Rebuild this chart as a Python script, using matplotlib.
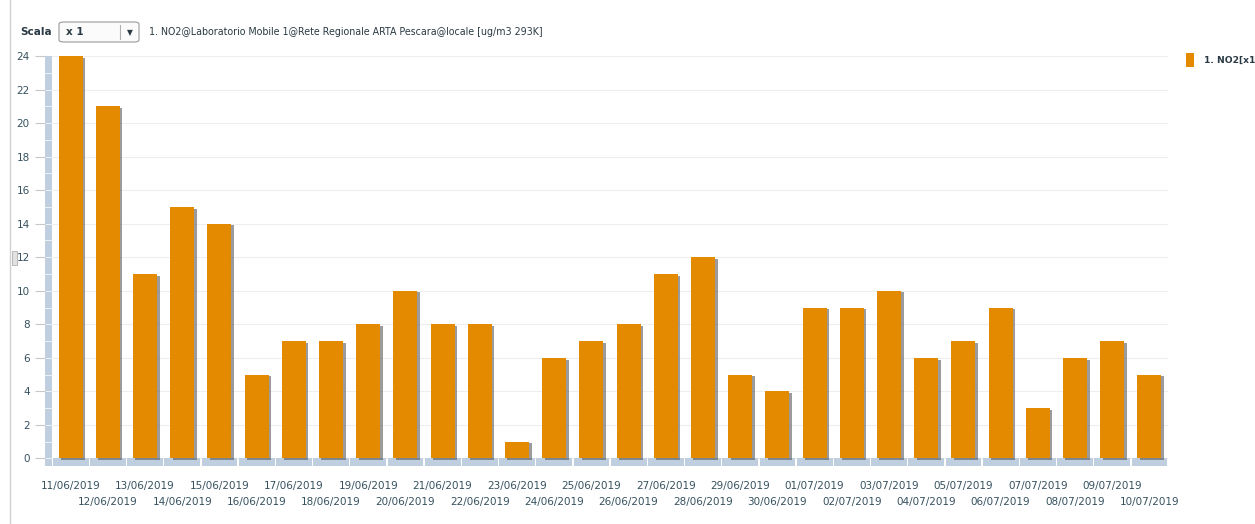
import numpy as np
import matplotlib.pyplot as plt
import matplotlib.patheffects as pe
from matplotlib.patches import FancyBboxPatch, Rectangle

# NO2 daily values, Laboratorio Mobile 1
dates = ["11/06/2019", "12/06/2019", "13/06/2019", "14/06/2019", "15/06/2019",
         "16/06/2019", "17/06/2019", "18/06/2019", "19/06/2019", "20/06/2019",
         "21/06/2019", "22/06/2019", "23/06/2019", "24/06/2019", "25/06/2019",
         "26/06/2019", "27/06/2019", "28/06/2019", "29/06/2019", "30/06/2019",
         "01/07/2019", "02/07/2019", "03/07/2019", "04/07/2019", "05/07/2019",
         "06/07/2019", "07/07/2019", "08/07/2019", "09/07/2019", "10/07/2019"]
no2 = [24, 21, 11, 15, 14, 5, 7, 7, 8, 10, 8, 8, 1, 6, 7, 8, 11, 12, 5, 4,
       9, 9, 10, 6, 7, 9, 3, 6, 7, 5]
yticks = list(range(0, 25, 2))

W, H = 1255, 524
BAR = "#e38a00"
TXT = "#35515e"
WALL = "#bfcfdf"

fig = plt.figure(figsize=(W / 100, H / 100), dpi=100)

def px(x0, y0, x1, y1):
    # pixel box (from top-left) -> figure fraction [l, b, w, h]
    return [x0 / W, 1 - y1 / H, (x1 - x0) / W, (y1 - y0) / H]

# axes spans the 3d wall (x 45..52) and the floor (y 458..466)
ax = fig.add_axes(px(45, 56, 1168, 466))
n = len(no2)
step = (1168 - 52) / n
wall_w = 7 / step
floor_h = 7.5 / ((458 - 56) / 24)
ax.set_xlim(-0.5 - wall_w, n - 0.5)
ax.set_ylim(-floor_h, 24)

for s in ax.spines.values():
    s.set_visible(False)

# gridlines
for t in yticks:
    ax.plot([-0.5, n - 0.5], [t, t], color="#eeeeee", lw=0.8, zorder=0)

# wall with white separators each unit
ax.add_patch(Rectangle((-0.5 - wall_w, -floor_h), wall_w, 24 + floor_h,
                       facecolor=WALL, edgecolor="none", zorder=1))
for u in range(0, 24):
    ax.plot([-0.5 - wall_w, -0.5], [u, u], color="#eef2f6", lw=0.7, zorder=1.5)

# floor segments
gap = 0.7 / step
for i in range(n):
    ax.add_patch(Rectangle((i - 0.5 + gap, -floor_h), 1 - 2 * gap, floor_h,
                           facecolor=WALL, edgecolor="none", zorder=1))

bars = ax.bar(range(n), no2, width=0.65, color=BAR, zorder=3)
for b in bars:
    b.set_path_effects([pe.SimplePatchShadow(offset=(1.8, -1.2), shadow_rgbFace="#4a4a4a", alpha=0.55),
                        pe.Normal()])

ax.set_yticks(yticks)
ax.set_yticklabels([str(t) for t in yticks])
ax.tick_params(axis="y", length=7, width=0.8, color="#c8c8c8", pad=4,
               labelsize=7.5, labelcolor=TXT)
ax.set_xticks([])

# staggered date labels
for i, d in enumerate(dates):
    off = -19.5 if i % 2 == 0 else -35.5
    ax.annotate(d, xy=(i, 0), xycoords=("data", "axes fraction"),
                xytext=(0, off * 0.72), textcoords="offset points",
                ha="center", va="center", fontsize=7.5, color=TXT)

# header
fig.text(20 / W, 1 - 32 / H, "Scala", fontsize=7.5, fontweight="bold",
         color="#2a3a44", va="center")
box = FancyBboxPatch((59 / W, 1 - 42 / H), 80 / W, 20 / H,
                     boxstyle="round,pad=0,rounding_size=0.004",
                     transform=fig.transFigure, facecolor="#fbfbfb",
                     edgecolor="#9a9a9a", lw=0.8)
fig.patches.append(box)
fig.add_artist(plt.Line2D([119.5 / W, 119.5 / W], [1 - 39 / H, 1 - 25 / H],
                          color="#b0b0b0", lw=0.8))
fig.text(66 / W, 1 - 32 / H, "x 1", fontsize=7.5, fontweight="bold",
         color="#2a3a44", va="center")
fig.text(129.5 / W, 1 - 33 / H, "\u25bc", fontsize=5.5, color="#2a3a44",
         va="center", ha="center")
fig.text(149 / W, 1 - 32 / H,
         "1. NO2@Laboratorio Mobile 1@Rete Regionale ARTA Pescara@locale [ug/m3 293K]",
         fontsize=6.85, color="#2a3a44", va="center")

# legend (narrow panel, label runs to the edge)
fig.patches.append(Rectangle((1186 / W, 1 - 67 / H), 8 / W, 14 / H,
                             transform=fig.transFigure, facecolor=BAR,
                             edgecolor="none"))
fig.text(1204 / W, 1 - 60 / H, "1. NO2[x1", fontsize=6.6, fontweight="bold",
         color="#2a3a44", va="center")

# left border and splitter handle
fig.add_artist(plt.Line2D([10 / W, 10 / W], [0, 1], color="#d0d0d0", lw=1))
fig.patches.append(Rectangle((12 / W, 1 - 265 / H), 5 / W, 14 / H,
                             transform=fig.transFigure, facecolor="#e2e2e2",
                             edgecolor="#b0b0b0", lw=0.6))

fig.savefig("out.png", dpi=100)
